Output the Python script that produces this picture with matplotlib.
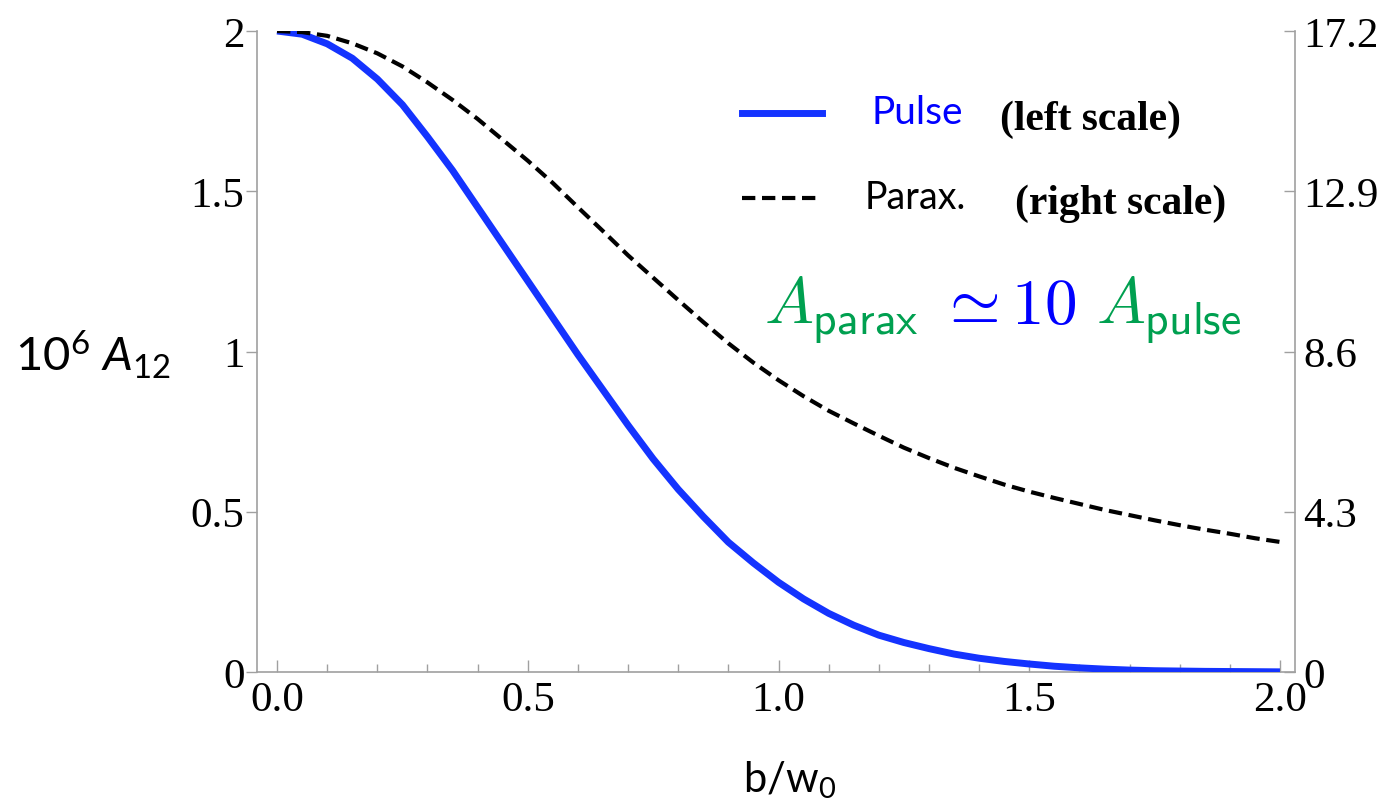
import numpy as np
import matplotlib
matplotlib.use("Agg")
import matplotlib.pyplot as plt
from matplotlib.lines import Line2D
from matplotlib.offsetbox import TextArea, HPacker, AnchoredOffsetbox
from matplotlib.ticker import MultipleLocator

# ---- data ----
b_over_w0 = [0.00, 0.05, 0.10, 0.15, 0.20, 0.25, 0.30, 0.35, 0.40, 0.45,
             0.50, 0.55, 0.60, 0.65, 0.70, 0.75, 0.80, 0.85, 0.90, 0.95,
             1.00, 1.05, 1.10, 1.15, 1.20, 1.25, 1.30, 1.35, 1.40, 1.45,
             1.50, 1.55, 1.60, 1.65, 1.70, 1.75, 1.80, 1.85, 1.90, 1.95, 2.00]
pulse_left = [2.00, 1.99, 1.96, 1.915, 1.85, 1.77, 1.67, 1.565, 1.45, 1.335,
              1.22, 1.105, 0.99, 0.88, 0.77, 0.665, 0.57, 0.485, 0.405, 0.34,
              0.28, 0.228, 0.183, 0.146, 0.115, 0.092, 0.073, 0.056, 0.043, 0.033,
              0.025, 0.018, 0.013, 0.009, 0.006, 0.004, 0.003, 0.002, 0.0015, 0.001, 0.0005]
parax_right = [17.20, 17.17, 17.07, 16.87, 16.60, 16.25, 15.82, 15.35, 14.84, 14.28,
               13.72, 13.12, 12.47, 11.83, 11.18, 10.58, 9.98, 9.39, 8.82, 8.30,
               7.83, 7.40, 7.01, 6.67, 6.34, 6.02, 5.74, 5.48, 5.25, 5.03,
               4.84, 4.67, 4.51, 4.35, 4.21, 4.07, 3.94, 3.82, 3.71, 3.59, 3.49]
x_ticks = [0.0, 0.5, 1.0, 1.5, 2.0]
x_ticklabels = ["0.0", "0.5", "1.0", "1.5", "2.0"]
left_ticks = [0, 0.5, 1, 1.5, 2]
left_ticklabels = ["0", "0.5", "1", "1.5", "2"]
right_ticks = [0, 4.3, 8.6, 12.9, 17.2]
right_ticklabels = ["0", "4.3", "8.6", "12.9", "17.2"]

W, H = 1392, 804
plt.rcParams['mathtext.fontset'] = 'custom'
plt.rcParams['mathtext.rm'] = 'Lato'
plt.rcParams['mathtext.it'] = 'Lato:italic'
plt.rcParams['mathtext.sf'] = 'Lato'

fig = plt.figure(figsize=(W / 100, H / 100), dpi=100)

def fx(px):
    return px / W

def fy(py):
    return 1 - py / H

ax_l, ax_r, ax_t, ax_b = 257, 1295, 32, 673
ax = fig.add_axes([fx(ax_l), fy(ax_b), fx(ax_r - ax_l), (ax_b - ax_t) / H])
ax2 = ax.twinx()

spine_c = "#a0a0a0"
serif = "Liberation Serif"
tick_fs = 31
blue_line = "#1433ff"

ax.plot(b_over_w0, pulse_left, color=blue_line, lw=5.0, solid_joinstyle="round",
        solid_capstyle="butt", zorder=3)
ax2.plot(b_over_w0, parax_right, color="black", lw=3.0, dashes=(3.2, 1.6),
         dash_joinstyle="round", zorder=3)

ax.set_xlim(-0.04, 2.03)
ax.set_ylim(0, 2)
ax2.set_ylim(0, 17.2)

for a in (ax, ax2):
    a.spines['top'].set_visible(False)
    for s in ('left', 'right', 'bottom'):
        a.spines[s].set_color(spine_c)
        a.spines[s].set_linewidth(1.2)
ax.spines['right'].set_visible(False)
ax2.spines['left'].set_visible(False)
ax2.spines['bottom'].set_visible(False)

ax.set_xticks(x_ticks)
ax.set_xticklabels(x_ticklabels, fontfamily=serif, fontsize=tick_fs)
ax.xaxis.set_minor_locator(MultipleLocator(0.1))
ax.tick_params(axis='x', which='major', direction='in', length=9, width=1, color=spine_c, pad=6)
ax.tick_params(axis='x', which='minor', direction='in', length=6, width=1, color=spine_c)

ax.set_yticks(left_ticks)
ax.set_yticklabels(left_ticklabels, fontfamily=serif, fontsize=tick_fs)
ax.tick_params(axis='y', which='major', direction='out', length=8, width=1, color=spine_c, pad=1)

ax2.set_yticks(right_ticks)
ax2.set_yticklabels(right_ticklabels, fontfamily=serif, fontsize=tick_fs)
ax2.tick_params(axis='y', which='major', direction='in', length=8, width=1, color=spine_c, pad=6)

# axis labels
fig.text(fx(15), fy(355), r"10$^{6}$ $A_{12}$", fontfamily="Lato", fontsize=34,
         ha="left", va="center", math_fontfamily="custom")
fig.text(fx(790), fy(780), r"b/w$_{0}$", fontfamily="Lato", fontsize=30,
         ha="center", va="center", math_fontfamily="custom")

# legend (manual)
fig.add_artist(Line2D([fx(742), fx(822)], [fy(114), fy(114)], color=blue_line, lw=5.0,
                      transform=fig.transFigure))
fig.add_artist(Line2D([fx(742), fx(820)], [fy(199), fy(199)], color="black", lw=3.0,
                      dashes=(3.2, 1.6), transform=fig.transFigure))
fig.text(fx(872), fy(113), "Pulse", color="#0000ff", fontfamily="Lato", fontsize=28,
         ha="left", va="center")
fig.text(fx(1000), fy(120), "(left scale)", color="black", fontfamily=serif,
         fontweight="bold", fontsize=30, ha="left", va="center")
fig.text(fx(865), fy(198), "Parax.", color="black", fontfamily="Lato", fontsize=27,
         ha="left", va="center")
fig.text(fx(1015), fy(204), "(right scale)", color="black", fontfamily=serif,
         fontweight="bold", fontsize=30, ha="left", va="center")

# formula A_parax ~ 10 A_pulse
green = "#00a050"
fp = dict(fontsize=47, math_fontfamily="cm")
t1 = TextArea(r"$A_{\mathsf{parax}}$", textprops=dict(color=green, **fp))
t2 = TextArea(r"$\simeq 10$", textprops=dict(color="#0000ff", **fp))
t3 = TextArea(r"$A_{\mathsf{pulse}}$", textprops=dict(color=green, **fp))
pack = HPacker(children=[t1, t2, t3], align="baseline", pad=0, sep=14)
ab = AnchoredOffsetbox(loc="center left", child=pack, frameon=False,
                       bbox_to_anchor=(fx(764), fy(310)), bbox_transform=fig.transFigure,
                       borderpad=0, pad=0)
fig.add_artist(ab)

fig.savefig("out.png", dpi=100)
